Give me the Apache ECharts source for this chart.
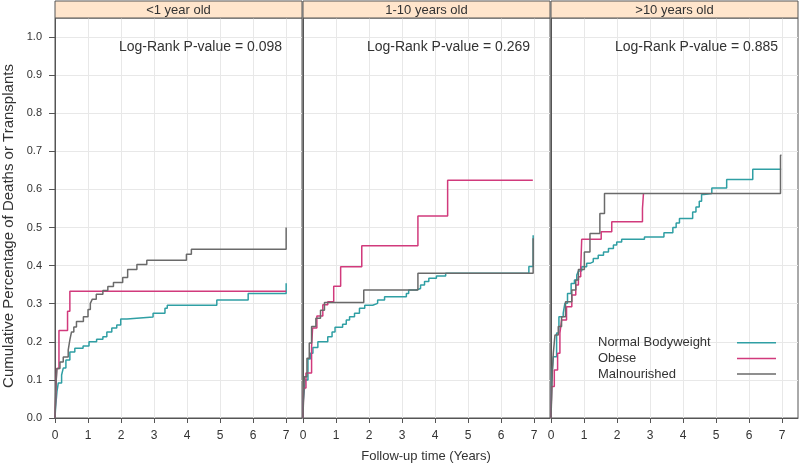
<!DOCTYPE html>
<html><head><meta charset="utf-8">
<script src="https://cdn.jsdelivr.net/npm/echarts@6/dist/echarts.min.js"></script>
<style>html,body{margin:0;padding:0;background:#fff}#c{width:800px;height:470px}</style>
</head><body><div id="c"></div>
<script>
const panels = ['<1 year old', '1-10 years old', '>10 years old'];
const groups = ['Normal Bodyweight', 'Obese', 'Malnourished'];
const pValues = ['0.098', '0.269', '0.885'];
const xTicks = [0, 1, 2, 3, 4, 5, 6, 7];
const yTicks = [0, 0.1, 0.2, 0.3, 0.4, 0.5, 0.6, 0.7, 0.8, 0.9, 1.0];

// Panel 1: <1 year old  [time (years), cumulative proportion]
const p1Normal = [[0,0],[0.02,0.03],[0.06,0.07],[0.1,0.092],[0.2,0.113],[0.25,0.131],[0.33,0.152],[0.45,0.173],[0.6,0.183],[0.85,0.189],[1.03,0.2],[1.26,0.207],[1.45,0.213],[1.57,0.226],[1.72,0.236],[1.87,0.244],[1.99,0.26],[2.18,0.265],[2.97,0.275],[3.33,0.288],[3.4,0.296],[4.9,0.31],[5.85,0.327],[7.0,0.354]];
const p1Obese = [[0,0],[0.02,0.05],[0.05,0.13],[0.12,0.23],[0.38,0.28],[0.45,0.333],[7.0,0.333]];
const p1Mal = [[0,0],[0.03,0.092],[0.06,0.13],[0.15,0.147],[0.25,0.16],[0.4,0.178],[0.45,0.205],[0.5,0.226],[0.57,0.239],[0.65,0.253],[0.86,0.266],[1.0,0.285],[1.07,0.301],[1.13,0.312],[1.25,0.325],[1.45,0.335],[1.6,0.345],[1.77,0.356],[2.05,0.369],[2.2,0.39],[2.48,0.403],[2.78,0.414],[3.98,0.43],[4.13,0.443],[7.0,0.5]];

// Panel 2: 1-10 years old
const p2Normal = [[0,0],[0.01,0.047],[0.07,0.1],[0.15,0.155],[0.22,0.17],[0.3,0.185],[0.45,0.2],[0.75,0.213],[0.88,0.226],[0.97,0.238],[1.2,0.246],[1.31,0.257],[1.41,0.266],[1.56,0.275],[1.71,0.288],[1.87,0.296],[2.11,0.301],[2.26,0.31],[2.47,0.318],[3.13,0.327],[3.2,0.336],[3.43,0.34],[3.56,0.349],[3.68,0.358],[3.81,0.367],[4.04,0.373],[4.32,0.38],[6.84,0.398],[6.97,0.48]];
const p2Obese = [[0,0],[0.02,0.079],[0.09,0.118],[0.26,0.186],[0.29,0.236],[0.42,0.268],[0.6,0.297],[0.75,0.305],[0.93,0.346],[1.14,0.397],[1.78,0.452],[3.48,0.53],[4.38,0.624],[6.96,0.624]];
const p2Mal = [[0,0],[0.02,0.066],[0.04,0.108],[0.12,0.157],[0.19,0.197],[0.26,0.24],[0.39,0.262],[0.53,0.283],[0.65,0.303],[1.84,0.336],[3.48,0.38],[6.97,0.472]];

// Panel 3: >10 years old
const p3Normal = [[0,0],[0.02,0.1],[0.07,0.161],[0.17,0.223],[0.24,0.266],[0.37,0.275],[0.42,0.301],[0.5,0.327],[0.61,0.353],[0.71,0.362],[0.78,0.375],[0.83,0.386],[0.93,0.397],[1.08,0.406],[1.18,0.41],[1.28,0.419],[1.43,0.427],[1.59,0.436],[1.74,0.445],[1.89,0.454],[1.99,0.462],[2.14,0.469],[2.83,0.475],[3.42,0.486],[3.69,0.5],[3.79,0.512],[3.89,0.524],[4.29,0.541],[4.39,0.554],[4.49,0.569],[4.56,0.587],[4.63,0.589],[4.87,0.604],[5.32,0.626],[6.11,0.653],[6.97,0.653]];
const p3Obese = [[0,0],[0.02,0.083],[0.1,0.126],[0.2,0.17],[0.27,0.223],[0.32,0.257],[0.47,0.292],[0.63,0.323],[0.75,0.349],[0.83,0.371],[0.9,0.393],[0.93,0.469],[1.52,0.489],[1.84,0.515],[2.77,0.55],[2.8,0.589],[2.82,0.589]];
const p3Mal = [[0,0],[0.02,0.057],[0.04,0.119],[0.07,0.17],[0.12,0.218],[0.22,0.24],[0.32,0.266],[0.44,0.305],[0.63,0.336],[0.75,0.362],[0.83,0.39],[1.01,0.436],[1.18,0.484],[1.48,0.537],[1.62,0.589],[6.95,0.69],[6.98,0.69]];

const panelData = [[p1Normal, p1Obese, p1Mal], [p2Normal, p2Obese, p2Mal], [p3Normal, p3Obese, p3Mal]];
const colors = ['#2f9fa4', '#d13a7c', '#6a6a6a'];

const FONT = '"Liberation Sans", Arial, sans-serif';
const TXT = '#333333';
const BORDER = '#555555';
const L = [55, 303, 551], W = 247, T = 18, H = 400;

const grids = [], xAxes = [], yAxes = [], series = [], graphics = [];
panels.forEach((p, i) => {
  grids.push({left: L[i], top: T, width: W, height: H, show: true, borderColor: BORDER, borderWidth: 1, backgroundColor: 'transparent'});
  xAxes.push({
    type: 'value', gridIndex: i, min: 0, max: 7.48,
    axisLine: {show: true, lineStyle: {color: BORDER}},
    axisTick: {show: true, length: 5, lineStyle: {color: BORDER}, customValues: xTicks},
    axisLabel: {show: true, margin: 12, fontSize: 12, color: TXT, fontFamily: FONT, customValues: xTicks, formatter: v => String(v)},
    splitLine: {show: true, lineStyle: {color: '#e8e8e8', width: 1}}
  });
  yAxes.push({
    type: 'value', gridIndex: i, min: 0, max: 1.05, interval: 0.1,
    axisLine: {show: true, lineStyle: {color: BORDER}},
    axisTick: {show: i === 0, length: 6, lineStyle: {color: BORDER}, customValues: yTicks},
    axisLabel: {show: i === 0, margin: 13, fontSize: 11, color: TXT, fontFamily: FONT, customValues: yTicks, formatter: v => v.toFixed(1)},
    splitLine: {show: true, lineStyle: {color: '#e8e8e8', width: 1}}
  });
  groups.forEach((g, k) => {
    series.push({
      type: 'line', name: g, xAxisIndex: i, yAxisIndex: i, data: panelData[i][k],
      step: 'end', symbol: 'none', showSymbol: false, animation: false,
      lineStyle: {width: 1.5, color: colors[k]}, itemStyle: {color: colors[k]}
    });
  });
  // strip
  graphics.push({type: 'rect', shape: {x: L[i], y: 1, width: W, height: T - 1}, style: {fill: '#ffe5cc', stroke: BORDER, lineWidth: 1}, z: 10});
  graphics.push({type: 'text', x: L[i] + W / 2, y: 10, z: 11, style: {text: p, fill: TXT, font: '13px ' + FONT, align: 'center', verticalAlign: 'middle'}});
  // p-value
  graphics.push({type: 'text', x: L[i] + W - 20, y: 47, z: 11, style: {text: 'Log-Rank P-value = ' + pValues[i], fill: TXT, font: '14px ' + FONT, align: 'right', verticalAlign: 'middle'}});
});

// axis titles
graphics.push({type: 'text', x: 426, y: 456, style: {text: 'Follow-up time (Years)', fill: TXT, font: '13px ' + FONT, align: 'center', verticalAlign: 'middle'}});
graphics.push({type: 'text', x: 9, y: 226, rotation: Math.PI / 2, style: {text: 'Cumulative Percentage of Deaths or Transplants', fill: TXT, font: '15px ' + FONT, align: 'center', verticalAlign: 'middle'}});

const chart = echarts.init(document.getElementById('c'), null, {renderer: 'canvas'});
chart.setOption({
  backgroundColor: '#ffffff',
  animation: false,
  grid: grids, xAxis: xAxes, yAxis: yAxes, series: series,
  legend: {
    data: groups, orient: 'vertical', left: 598, top: 335, align: 'right', padding: 0,
    icon: 'rect', itemWidth: 39, itemHeight: 1.5, itemGap: 0, selectedMode: false,
    formatter: name => '{a|' + name + '}',
    textStyle: {color: TXT, fontSize: 13, fontFamily: FONT, rich: {a: {width: 134, height: 15.6, lineHeight: 15.6, align: 'left', fontSize: 13, fontFamily: FONT, color: TXT}}}
  },
  graphic: graphics
});
</script></body></html>
